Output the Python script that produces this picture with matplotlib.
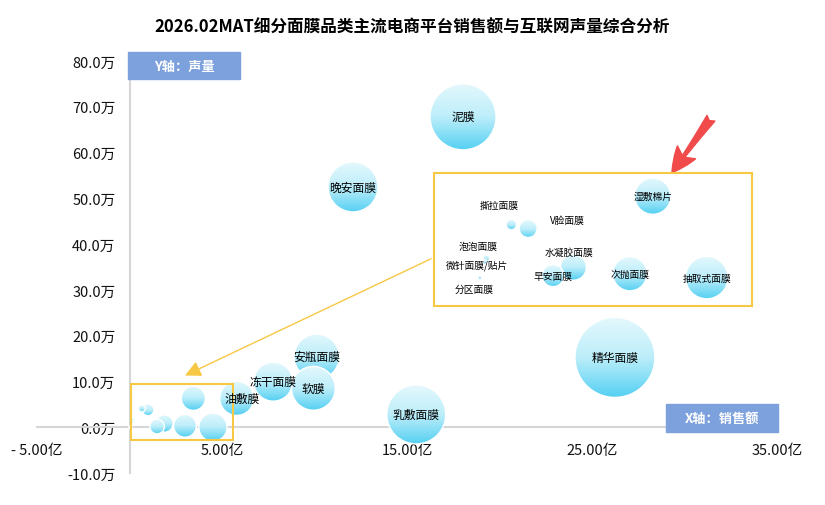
import numpy as np
import matplotlib
matplotlib.use('Agg')
from matplotlib import pyplot as plt
from matplotlib.colors import LinearSegmentedColormap
from matplotlib.patches import Circle, Rectangle
from matplotlib.transforms import Affine2D, ScaledTranslation
from matplotlib.ticker import FuncFormatter

plt.rcParams['font.family'] = ['Noto Sans CJK SC', 'DejaVu Sans']

title = '2026.02MAT细分面膜品类主流电商平台销售额与互联网声量综合分析'

# 品类 / 销售额(亿) / 声量(万) / 气泡大小
names = ['泥膜', '晚安面膜', '精华面膜', '乳敷面膜', '油敷膜', '冻干面膜', '安瓶面膜', '软膜',
         '湿敷棉片', '抽取式面膜', '次抛面膜', '水凝胶面膜', '早安面膜', 'V脸面膜', '撕拉面膜',
         '泡泡面膜', '微针面膜/贴片', '分区面膜']
sales = [18.03, 12.08, 26.24, 15.5, 5.8, 7.77, 10.12, 9.94,
         3.45, 4.51, 3.0, 1.89, 1.49, 1.0, 0.67,
         0.18, 0.15, 0.05]
voice = [67.8, 52.5, 15.25, 2.8, 6.3, 9.95, 15.4, 8.5,
         6.3, 0.0, 0.3, 0.8, 0.15, 3.8, 4.1,
         1.5, 1.2, 0.0]
bubble = [10.9, 6.25, 16.0, 8.7, 2.9, 3.8, 5.1, 4.8,
          1.45, 2.0, 1.3, 0.75, 0.54, 0.36, 0.12,
          0.05, 0.02, 0.02]

# 小品类放大显示
inset_names = ['湿敷棉片', '抽取式面膜', '次抛面膜', '水凝胶面膜', '早安面膜', 'V脸面膜',
               '撕拉面膜', '泡泡面膜', '微针面膜/贴片', '分区面膜']

x_ticks = [-5, 5, 15, 25, 35]
y_ticks = [-10, 0, 10, 20, 30, 40, 50, 60, 70, 80]

# 标签偏移(pt)
main_offsets = {'油敷膜': (4, 0)}
inset_offsets = {'水凝胶面膜': (-3, 11), 'V脸面膜': (28, 6), '撕拉面膜': (-9, 14),
                 '泡泡面膜': (-6, 9), '微针面膜/贴片': (-6, -2), '分区面膜': (-4, -8)}

cmap = LinearSegmentedColormap.from_list('bub', ['#e4f8fd', '#bdeefa', '#55d0f2'])
grad = np.linspace(0, 1, 256).reshape(-1, 1)

fig = plt.figure(figsize=(8.25, 5.06), dpi=100)


def draw_bubble(ax, x, y, r_pt, z):
    trans = Affine2D().scale(r_pt / 72.0) + fig.dpi_scale_trans + ScaledTranslation(x, y, ax.transData)
    circ = Circle((0, 0), 1, transform=trans, facecolor='none', edgecolor='white', lw=1.0, zorder=z + 0.1)
    ax.add_patch(circ)
    im = ax.imshow(grad, cmap=cmap, extent=(-1, 1, -1, 1), transform=trans, zorder=z,
                   aspect='auto', interpolation='bilinear')
    im.set_clip_path(circ)


# 主图
ax = fig.add_axes([37 / 825, 1 - 474 / 506, 740 / 825, 412 / 506])
ax.set_xlim(-5, 35)
ax.set_ylim(-10, 80)
ax.set_autoscale_on(False)

for i, n in enumerate(names):
    r_pt = 10 * np.sqrt(bubble[i]) * 0.72
    draw_bubble(ax, sales[i], voice[i], r_pt, 2 + i * 0.2)
    if n not in inset_names:
        dx, dy = main_offsets.get(n, (0, 0))
        ax.annotate(n, (sales[i], voice[i]), xytext=(dx, dy), textcoords='offset points',
                    ha='center', va='center', fontsize=8.5, color='#000000', weight=500, zorder=20)

ax.set_xlim(-5, 35)
ax.set_ylim(-10, 80)
ax.set_xticks(x_ticks)
ax.set_yticks(y_ticks)
ax.xaxis.set_major_formatter(FuncFormatter(lambda v, _: f'- {abs(v):.2f}亿' if v < 0 else f'{v:.2f}亿'))
ax.yaxis.set_major_formatter(FuncFormatter(lambda v, _: f'{v:.1f}万'))
ax.tick_params(axis='both', length=0, labelsize=10.5, labelcolor='#111111')
ax.tick_params(axis='y', pad=10)
ax.tick_params(axis='x', pad=11)
for s in ['top', 'right']:
    ax.spines[s].set_visible(False)
for s in ['left', 'bottom']:
    ax.spines[s].set_position(('data', 0))
    ax.spines[s].set_color('#d6d6d6')
    ax.spines[s].set_linewidth(1.5)
for lbl in ax.get_yticklabels():
    lbl.set_bbox(dict(fc='white', ec='none', pad=1))

# 框选小品类 + 指引箭头
ax.add_patch(Rectangle((0.08, -2.83), 5.51, 12.2, fill=False, ec='#f7c843', lw=1.5, zorder=15))
ax.annotate('', xy=(3.0, 11.3), xytext=(16.3, 36.8),
            arrowprops=dict(arrowstyle='-|>,head_length=0.8,head_width=0.4', color='#f7c843',
                            lw=1.0, shrinkA=0, shrinkB=0, mutation_scale=12), zorder=15)
ax.annotate('', xy=(29.32, 55.6), xytext=(31.43, 67.5),
            arrowprops=dict(arrowstyle='fancy,head_length=0.9,head_width=0.8,tail_width=0.35',
                            color='#f04a4a', shrinkA=0, shrinkB=0, mutation_scale=20), zorder=15)

# 放大图
axi = fig.add_axes([434 / 825, 1 - 307 / 506, 318 / 825, 133 / 506])
axi.set_xlim(-0.85, 5.4)
axi.set_ylim(-2.2, 8.1)
axi.set_autoscale_on(False)
for i, n in enumerate(names):
    if n not in inset_names:
        continue
    r_pt = 15 * np.sqrt(bubble[i]) * 0.72
    draw_bubble(axi, sales[i], voice[i], r_pt, 2 + i * 0.2)
    dx, dy = inset_offsets.get(n, (0, 0))
    axi.annotate(n, (sales[i], voice[i]), xytext=(dx, dy), textcoords='offset points',
                 ha='center', va='center', fontsize=7, color='#000000', weight=500, zorder=20)
axi.set_xlim(-0.85, 5.4)
axi.set_ylim(-2.2, 8.1)
axi.set_xticks([])
axi.set_yticks([])
for s in axi.spines.values():
    s.set_color('#f7c843')
    s.set_linewidth(1.5)

# 坐标轴说明框
fig.patches.append(Rectangle((128 / 825, 1 - 80 / 506), 112 / 825, 27 / 506,
                             transform=fig.transFigure, color='#7ca1dc', zorder=5))
fig.text(184 / 825, 1 - 66.5 / 506, 'Y轴：声量', color='white', ha='center', va='center',
         fontsize=9.5, weight='bold', zorder=6)
fig.patches.append(Rectangle((666 / 825, 1 - 433 / 506), 112 / 825, 28 / 506,
                             transform=fig.transFigure, color='#7ca1dc', zorder=5))
fig.text(722 / 825, 1 - 419 / 506, 'X轴：销售额', color='white', ha='center', va='center',
         fontsize=9.5, weight='bold', zorder=6)

fig.text(0.5, 1 - 27 / 506, title, ha='center', va='center', fontsize=12, weight='bold')

fig.savefig('out.png', dpi=100)
